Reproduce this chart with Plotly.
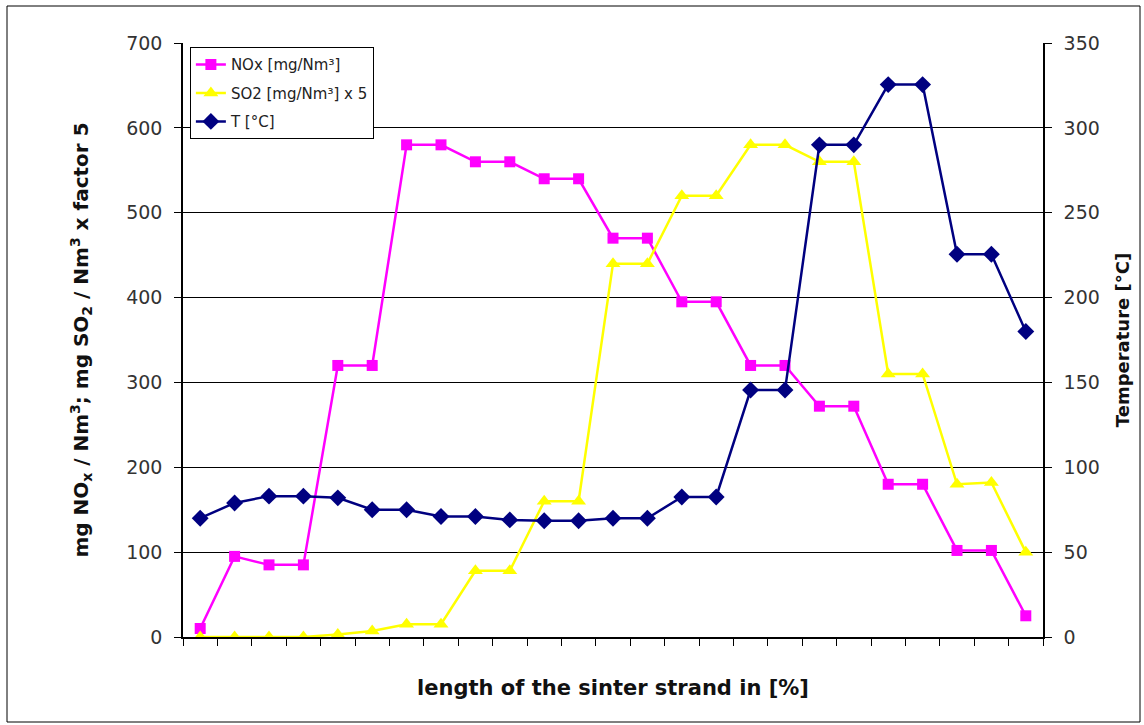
import plotly.graph_objects as go

positions = list(range(25))
nox = [10, 95, 85, 85, 320, 320, 580, 580, 560, 560, 540, 540, 470, 470,
       395, 395, 320, 320, 272, 272, 180, 180, 102, 102, 25]
so2x5 = [0, 0, 0, 0, 3, 7, 15, 15, 78, 78, 160, 160, 440, 440, 520, 520,
         580, 580, 560, 560, 310, 310, 180, 182, 100]
temp = [70, 79, 83, 83, 82, 75, 75, 71, 71, 69, 68.5, 68.5, 70, 70, 82.5, 82.5,
        145.5, 145.5, 290, 290, 325.5, 325.5, 225.5, 225.5, 180]
left_ticks = [0, 100, 200, 300, 400, 500, 600, 700]
right_ticks = [0, 50, 100, 150, 200, 250, 300, 350]

FONT = "DejaVu Sans, Liberation Sans, Arial, sans-serif"

fig = go.Figure()
fig.add_trace(go.Scatter(
    x=positions, y=nox, name="NOx [mg/Nm³]", mode="lines+markers",
    legendgroup="a",
    line=dict(color="#FF00FF", width=2.5),
    marker=dict(symbol="square", size=11, color="#FF00FF"),
))
fig.add_trace(go.Scatter(
    x=positions, y=so2x5, name="SO2 [mg/Nm³] x 5", mode="lines+markers",
    legendgroup="b",
    line=dict(color="#FFFF00", width=2.5),
    marker=dict(symbol="triangle-up", size=13, color="#FFFF00"),
))
fig.add_trace(go.Scatter(
    x=positions, y=temp, name="T [°C]", mode="lines+markers", yaxis="y2",
    legendgroup="c",
    line=dict(color="#000080", width=2.5),
    marker=dict(symbol="diamond", size=13, color="#000080"),
))

fig.update_layout(
    width=1144, height=725,
    margin=dict(l=183, r=101, t=43, b=88),
    paper_bgcolor="white", plot_bgcolor="white",
    font=dict(family=FONT, color="#222"),
    xaxis=dict(
        range=[-0.5, 24.5], tickmode="array",
        tickvals=[p - 0.5 for p in positions] + [positions[-1] + 0.5],
        showticklabels=False, ticks="outside", ticklen=7, tickcolor="black",
        showline=True, linecolor="black", linewidth=1.5, showgrid=False,
        zeroline=False,
        title=dict(text="<b>length of the sinter strand in [%]</b>",
                   font=dict(size=21, color="#111"), standoff=36),
    ),
    yaxis=dict(
        range=[0, 700], tickvals=left_ticks, ticks="outside", ticklen=7,
        tickcolor="black", showline=True, linecolor="black", linewidth=1.5,
        showgrid=True, gridcolor="black", gridwidth=1.2, zeroline=False,
        tickfont=dict(size=19, color="#333"), ticklabelstandoff=8,
        title=dict(text="<b>mg NO<sub>x</sub> / Nm<sup>3</sup>; mg SO<sub>2</sub> / Nm<sup>3</sup> x factor 5</b>",
                   font=dict(size=20, color="#111"), standoff=32),
    ),
    yaxis2=dict(
        range=[0, 350], tickvals=right_ticks, overlaying="y", side="right",
        ticks="outside", ticklen=7, tickcolor="black", showline=True,
        linecolor="black", linewidth=1.5, showgrid=False, zeroline=False,
        tickfont=dict(size=19, color="#333"), ticklabelstandoff=8,
        title=dict(text="<b>Temperature [°C]</b>", font=dict(size=18, color="#111"),
                   standoff=18),
    ),
    legend=dict(
        x=0.008, y=0.993, xanchor="left", yanchor="top",
        bgcolor="white", bordercolor="black", borderwidth=1,
        font=dict(size=15, color="#222"), tracegroupgap=6,
    ),
    showlegend=True,
)
fig.add_shape(type="rect", xref="paper", yref="paper",
              x0=-176/860, x1=1 + (1140-1043)/860, y0=-(722-637)/594, y1=1 + (43-6)/594,
              line=dict(color="black", width=1), layer="below")

fig.write_html("out.html")
